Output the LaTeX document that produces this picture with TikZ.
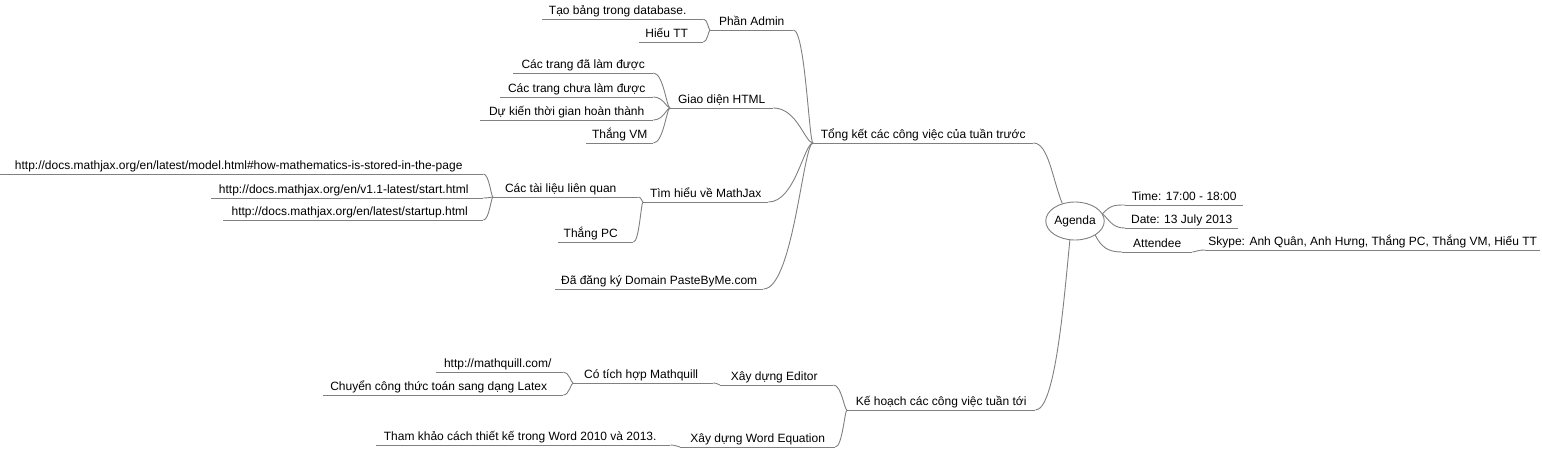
\documentclass[tikz,border=0pt]{standalone}
\usepackage{fontspec}
\setmainfont{Liberation Sans}
\usetikzlibrary{shapes.geometric,calc}
\definecolor{edgegray}{RGB}{128,128,128}
\newcommand{\mmfont}{\fontsize{12}{14}\selectfont}
\tikzset{
  topic/.style={anchor=south west, inner xsep=0pt, inner ysep=1pt,
    text height=9pt, text depth=3pt, font=\mmfont, text=black, minimum width=#1},
  shl/.style={execute at end node={\hspace{#1pt}}},
  ln/.style={draw=edgegray, line width=0.9pt},
  fm/.style={to path={let \p1=(\tikztostart), \p2=(\tikztotarget) in
    .. controls ({\x1+0.6*(\x2-\x1)},\y1) and ({\x2-0.2*(\x2-\x1)},\y2) .. (\tikztotarget)}},
  rootnode/.style={ellipse, draw=edgegray, line width=0.9pt, minimum width=54pt,
    minimum height=38pt, inner sep=0pt, font=\mmfont}
}
\begin{document}
\begin{tikzpicture}[x=1pt,y=-1pt]
\useasboundingbox (0,0) rectangle (1542,448);
% root
\node[rootnode] (root) at (1075,221) {Agenda};
% main branches
\node[topic=220] (t1) at (813,143) {Tổng kết các công việc của tuần trước};
\node[topic=188] (t2) at (847,410) {Kế hoạch các công việc tuần tới};
% right side
\node[topic=118] (r1) at (1125,205) {Time: 17:00 - 18:00};
\node[topic=113] (r2) at (1125,228) {Date: 13 July 2013};
\node[topic=70] (r3) at (1122,252) {Attendee};
\node[topic=335] (r4) at (1205,250) {Skype: Anh Quân, Anh Hưng, Thắng PC, Thắng VM, Hiếu TT};
% Phan Admin
\node[topic=83] (a) at (710,30) {Phần Admin};
\node[topic=161,shl=10] (a1) at (542,19) {Tạo bảng trong database.};
\node[topic=64,shl=9] (a2) at (639,42) {Hiếu TT};
% Giao dien HTML
\node[topic=103] (g) at (670,108) {Giao diện HTML};
\node[topic=140] (g1) at (513,73) {Các trang đã làm được};
\node[topic=153] (g2) at (500,97) {Các trang chưa làm được};
\node[topic=173] (g3) at (480,120) {Dự kiến thời gian hoàn thành};
\node[topic=67] (g4) at (586,143) {Thắng VM};
% MathJax
\node[topic=125] (m) at (643,202) {Tìm hiểu về MathJax};
\node[topic=145,shl=10] (m1) at (493,197) {Các tài liệu liên quan};
\node[topic=483,shl=6] (u1) at (0,174) {http://docs.mathjax.org/en/latest/model.html\#how-mathematics-is-stored-in-the-page};
\node[topic=272,shl=7] (u2) at (211,198) {http://docs.mathjax.org/en/v1.1-latest/start.html};
\node[topic=260,shl=7] (u3) at (223,220) {http://docs.mathjax.org/en/latest/startup.html};
\node[topic=75,shl=10] (m2) at (558,242) {Thắng PC};
\node[topic=208] (d) at (555,289) {Đã đăng ký Domain PasteByMe.com};
% Ke hoach
\node[topic=113,shl=5] (e) at (720,385) {Xây dựng Editor};
\node[topic=140,shl=4] (e1) at (573,383) {Có tích hợp Mathquill};
\node[topic=127,shl=4] (e11) at (436,372) {http://mathquill.com/};
\node[topic=240,shl=9] (e12) at (323,395) {Chuyển công thức toán sang dạng Latex};
\node[topic=155] (w) at (680,447) {Xây dựng Word Equation};
\node[topic=294,shl=6] (w1) at (376,445) {Tham khảo cách thiết kế trong Word 2010 và 2013.};
% underlines
\foreach \nn in {t1,t2,r1,r2,r3,r4,a,a1,a2,g,g1,g2,g3,g4,m,m1,u1,u2,u3,m2,d,e,e1,e11,e12,w,w1}
  \draw[ln] (\nn.south west) -- (\nn.south east);
% root connectors
\draw[ln] (t1.south east) .. controls +(15,0) and +(-10,-25) .. (root.126);
\draw[ln] (t2.south east) .. controls +(20,0) and +(-6,60) .. (root.255);
\draw[ln] (root.15) .. controls +(8,-8) and +(-12,0) .. (r1.south west);
\draw[ln] (root.15) .. controls +(8,8) and +(-12,0) .. (r2.south west);
\draw[ln] (root.-35) .. controls +(6,12) and +(-14,0) .. (r3.south west);
\draw[ln] (r4.south west) to[fm] (r3.south east);
% left tree connectors
\foreach \cc/\pp in {a/t1,g/t1,m/t1,d/t1,a1/a,a2/a,g1/g,g2/g,g3/g,g4/g,m1/m,m2/m,u1/m1,u2/m1,u3/m1,
                   e/t2,w/t2,e1/e,e11/e1,e12/e1,w1/w}
  \draw[ln] (\cc.south east) to[fm] (\pp.south west);
\end{tikzpicture}
\end{document}
